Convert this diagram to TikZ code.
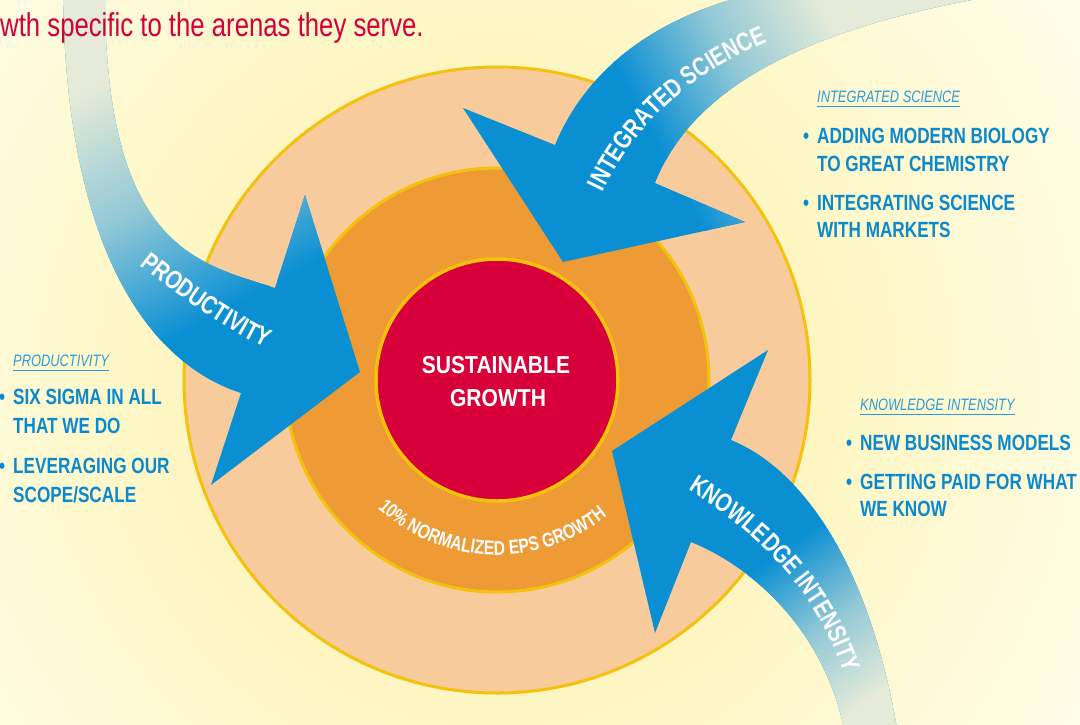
\documentclass[tikz,border=0pt]{standalone}
\usepackage{fontspec}
\setmainfont{Liberation Sans}
\newfontfamily\condfont{Liberation Sans}[FakeStretch=0.78]
\newfontfamily\condwide{Liberation Sans}[FakeStretch=0.86]
\usetikzlibrary{decorations.text}
\definecolor{bgin}{HTML}{FCF0A0}
\definecolor{bgout}{HTML}{FFFDEA}
\definecolor{peach}{HTML}{F7CB9C}
\definecolor{orng}{HTML}{EE9A35}
\definecolor{crim}{HTML}{D7003B}
\definecolor{ringy}{HTML}{F4C20C}
\definecolor{abl}{HTML}{0A8FD3}
\definecolor{tailpale}{HTML}{E5EBD8}
\definecolor{listblue}{HTML}{0A89CF}
\definecolor{titleblue}{HTML}{2A9BD8}
\definecolor{topred}{HTML}{D4003C}
\newcommand\myArrowFont{\condfont\bfseries\fontsize{26}{26}\selectfont}
\newcommand\myRingFont{\condfont\bfseries\fontsize{20}{20}\selectfont}
\newcommand\prodpath{(105,10) .. controls (104,-250) and (199,-263) .. (275,-288) -- (305,-195) -- (360,-372) -- (211,-485) -- (241,-393) .. controls (150,-364) and (65,-250) .. (63,10) -- cycle}
\newcommand\intpath{(1100,40) -- (770,10) .. controls (670,-10) and (590,-60) .. (555,-145) -- (463,-108) -- (563,-262) -- (745,-222) -- (655,-183) .. controls (690,-95) and (790,-30) .. (1000,5) -- (1100,15) -- cycle}
\newcommand\knowpath{(899,-740) .. controls (870,-560) and (800,-468) .. (731,-440) -- (768,-350) -- (612,-451) -- (655,-633) -- (691,-542) .. controls (760,-570) and (830,-640) .. (846,-740) -- cycle}
\tikzset{
  listitem/.style={anchor=base west, inner sep=0pt, text=listblue, font=\condfont\bfseries\fontsize{22}{24}\selectfont},
  listtitle/.style={anchor=base west, inner sep=0pt, text=titleblue, font=\condfont\itshape\fontsize{16.5}{18}\selectfont},
  titlerule/.style={draw=titleblue, line width=1.3pt},
  ring/.style={draw=ringy, line width=3pt},
  centertext/.style={anchor=base, inner sep=0pt, text=white, font=\condwide\bfseries\fontsize{24.5}{24}\selectfont},
  arrowlabel/.style={decorate, decoration={text along path, text align=left, text color=white}},
  tailshade/.style={left color=tailpale, right color=abl, middle color=abl!38!tailpale},
}
\begin{document}
\begin{tikzpicture}[x=1pt,y=1pt]
\path[use as bounding box] (0,0) rectangle (1080,-724);
\clip (0,0) rectangle (1080,-724);
% background glow
\shade[inner color=bgin, outer color=bgout] (-200,317) rectangle (1194,-1077);
% rings
\node[circle, fill=peach, ring, minimum size=626pt, inner sep=0pt] (outerring) at (497,-380) {};
\node[circle, fill=orng, ring, minimum size=424pt, inner sep=0pt] (midring) at (497,-380) {};
\node[circle, fill=crim, ring, line width=3.5pt, minimum size=242pt, inner sep=0pt] (core) at (497,-380) {};
% ring text
\path[decorate, decoration={text along path, text align=center, text color=white, text={|\myRingFont|10{\%} NORMALIZED EPS GROWTH}}]
  (497,-380) ++(213:175) arc[start angle=213, end angle=323, radius=175];
% productivity arrow
\fill[abl] \prodpath;
\begin{scope}
  \clip \prodpath;
  \begin{scope}[transform canvas={shift={(88,-90)},rotate=-61.8}]
    \fill[tailpale] (-400,-250) rectangle (0.5,250);
    \shade[tailshade] (0,-250) rectangle (259,250);
  \end{scope}
\end{scope}
\path[arrowlabel, decoration={text={|\myArrowFont|PRODUCTIVITY}}]
  (140,-265) .. controls (180,-297) and (225,-330) .. (275,-352);
% integrated science arrow
\fill[abl] \intpath;
\begin{scope}
  \clip \intpath;
  \begin{scope}[transform canvas={shift={(830,-22)},rotate=208.5}]
    \fill[tailpale] (-400,-250) rectangle (0.5,250);
    \shade[tailshade] (0,-250) rectangle (210,250);
  \end{scope}
\end{scope}
\path[arrowlabel, decoration={text={|\myArrowFont|INTEGRATED SCIENCE}}]
  (603,-192) .. controls (640,-115) and (700,-68) .. (778,-38);
% knowledge intensity arrow
\fill[abl] \knowpath;
\begin{scope}
  \clip \knowpath;
  \begin{scope}[transform canvas={shift={(862,-705)},rotate=126.5}]
    \fill[tailpale] (-400,-250) rectangle (0.5,250);
    \shade[tailshade] (0,-250) rectangle (172,250);
  \end{scope}
\end{scope}
\path[arrowlabel, decoration={text={|\myArrowFont|KNOWLEDGE INTENSITY}}]
  (688,-490) .. controls (745,-525) and (822,-585) .. (850,-695);
% center text
\node[centertext] (sus) at (496,-373) {SUSTAINABLE};
\node[centertext] (gro) at (498,-406) {GROWTH};
% integrated science list
\node[listtitle] (ist) at (817,-102) {INTEGRATED SCIENCE};
\draw[titlerule] ([yshift=-4.5pt]ist.base west) -- ([yshift=-4.5pt]ist.base east);
\node[listitem] (isb1) at (803,-143) {•};
\node[listitem] (is1) at (817,-143) {ADDING MODERN BIOLOGY};
\node[listitem] (is2) at (817,-171) {TO GREAT CHEMISTRY};
\node[listitem] (isb2) at (803,-210) {•};
\node[listitem] (is3) at (817,-210) {INTEGRATING SCIENCE};
\node[listitem] (is4) at (817,-237) {WITH MARKETS};
% productivity list
\node[listtitle] (pt) at (13,-366) {PRODUCTIVITY};
\draw[titlerule] ([yshift=-4.5pt]pt.base west) -- ([yshift=-4.5pt]pt.base east);
\node[listitem] (pb1) at (-1,-404) {•};
\node[listitem] (p1) at (13,-404) {SIX SIGMA IN ALL};
\node[listitem] (p2) at (13,-433) {THAT WE DO};
\node[listitem] (pb2) at (-1,-473) {•};
\node[listitem] (p3) at (13,-473) {LEVERAGING OUR};
\node[listitem] (p4) at (13,-502) {SCOPE/SCALE};
% knowledge intensity list
\node[listtitle] (kt) at (860,-410) {KNOWLEDGE INTENSITY};
\draw[titlerule] ([yshift=-4.5pt]kt.base west) -- ([yshift=-4.5pt]kt.base east);
\node[listitem] (kb1) at (846,-450) {•};
\node[listitem] (k1) at (860,-450) {NEW BUSINESS MODELS};
\node[listitem] (kb2) at (846,-489) {•};
\node[listitem] (k2) at (860,-489) {GETTING PAID FOR WHAT};
\node[listitem] (k3) at (860,-516) {WE KNOW};
% top text
\node[anchor=base west, inner sep=0pt, text=topred, font=\condfont\fontsize{33}{33}\selectfont] (intro) at (0,-36) {wth specific to the arenas they serve.};
\end{tikzpicture}
\end{document}
